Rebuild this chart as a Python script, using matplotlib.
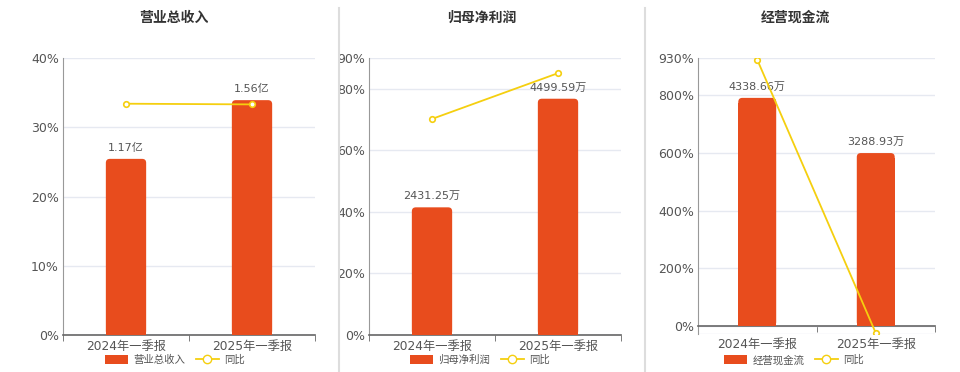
import numpy as np
import matplotlib
matplotlib.use('Agg')
import matplotlib.pyplot as plt
from matplotlib.patches import FancyBboxPatch, Patch
from matplotlib.lines import Line2D

plt.rcParams['font.family'] = ['DejaVu Sans', 'Noto Sans CJK SC']

# data
categories = ['2024年一季报', '2025年一季报']

rev_vals = [1.17, 1.56]            # 亿
rev_labels = ['1.17亿', '1.56亿']
rev_yoy = [33.4, 33.3]             # %

profit_vals = [2431.25, 4499.59]   # 万
profit_labels = ['2431.25万', '4499.59万']
profit_yoy = [70.2, 85.07]

cash_vals = [4338.66, 3288.93]     # 万
cash_labels = ['4338.66万', '3288.93万']
cash_yoy = [924.0, -24.2]

titles = ['营业总收入', '归母净利润', '经营现金流']

BAR = '#E84C1D'
LINE = '#F5CF0F'
GRID = '#E6E9F1'
TXT = '#555555'

fig = plt.figure(figsize=(9.6, 3.72), dpi=100)

panels = [
    # name, bars, labels, yoy, axes rect (px), pct ylim, pct ticks, bar ylim, title x, legend x
    (titles[0], rev_vals, rev_labels, rev_yoy, (63, 58, 315, 335), (0, 40), [0, 10, 20, 30, 40], (0, 1.84), 174, 175),
    (titles[1], profit_vals, profit_labels, profit_yoy, (369, 58, 621, 335), (0, 90), [0, 20, 40, 60, 80, 90], (0, 5275), 482, 480),
    (titles[2], cash_vals, cash_labels, cash_yoy, (698, 58, 935, 334), (-27.8, 930), [0, 200, 400, 600, 800, 930], (-152, 5097), 795, 794),
]

W, H = 960, 372
x = np.arange(len(categories))
bw = 0.32

for name, vals, labels, yoy, (l, t, r, b), plim, pticks, blim, tx, lx in panels:
    ax = fig.add_axes([l / W, 1 - b / H, (r - l) / W, (b - t) / H])
    ax.set_xlim(-0.5, 1.5)
    ax.set_ylim(*plim)
    ax.set_yticks(pticks)
    ax.set_yticklabels([f'{v}%' for v in pticks])
    ax.grid(axis='y', color=GRID, linewidth=1)
    ax.set_axisbelow(True)
    for s in ['top', 'right']:
        ax.spines[s].set_visible(False)
    ax.spines['left'].set_color('#999999')
    ax.tick_params(axis='y', length=0, labelsize=9, labelcolor=TXT, pad=3)

    ax.set_xticks(x)
    ax.set_xticklabels(categories)
    ax.set_xticks([-0.5, 0.5, 1.5], minor=True)
    ax.tick_params(axis='x', which='major', length=0, labelsize=8.8, labelcolor=TXT)
    ax.tick_params(axis='x', which='minor', length=4, color='#666666')

    if plim[0] < 0:
        ax.spines['bottom'].set_position(('data', 0))
        ax.tick_params(axis='x', which='major', pad=3 + (b - t) * (0 - plim[0]) / (plim[1] - plim[0]) / 1.39)
        ax.axhline(plim[0], color=GRID, linewidth=1, zorder=0)
    ax.spines['bottom'].set_color('#666666')
    ax.spines['bottom'].set_linewidth(1.2)

    # bars on a hidden twin axis
    bx = ax.twinx()
    bx.set_ylim(*blim)
    bx.axis('off')
    xpp = 2.0 / (r - l)
    ypp = (blim[1] - blim[0]) / (b - t)
    rad = 4 * xpp
    for xi, v, lab in zip(x, vals, labels):
        bx.bar(xi, v - 5 * ypp, bw, color=BAR, zorder=2)
        bx.add_patch(FancyBboxPatch((xi - bw / 2, 0), bw, v,
                                    boxstyle=f'round,pad=0,rounding_size={rad}',
                                    mutation_aspect=ypp / xpp,
                                    fc=BAR, ec='none', zorder=2))
        bx.text(xi, v + 6 * ypp, lab, ha='center', va='bottom', fontsize=8, color=TXT)

    # yoy line on top
    lx_ax = ax.twinx()
    lx_ax.set_ylim(*plim)
    lx_ax.axis('off')
    lx_ax.plot(x, yoy, color=LINE, linewidth=1.3, marker='o', markersize=4,
               markerfacecolor='white', markeredgecolor=LINE, markeredgewidth=1.2, zorder=3)

    fig.text(tx / W, 1 - 18 / H, name, ha='center', va='center', fontsize=10,
             fontweight='bold', color='#333333')

    handles = [Patch(facecolor=BAR, edgecolor='none'),
               Line2D([0], [0], color=LINE, marker='o', markersize=6, linewidth=1.3,
                      markerfacecolor='white', markeredgecolor=LINE)]
    fig.legend(handles, [name, '同比'], loc='center', bbox_to_anchor=(lx / W, 1 - 360 / H),
               ncol=2, frameon=False, fontsize=7.5, labelcolor=TXT,
               handlelength=2.2, handleheight=1.0, columnspacing=1.0, handletextpad=0.5)

for sx in [339, 645]:
    fig.add_artist(Line2D([sx / W, sx / W], [0, 1 - 8 / H], color='#DDDDDD', linewidth=1.5))

fig.savefig('out.png', dpi=100)
